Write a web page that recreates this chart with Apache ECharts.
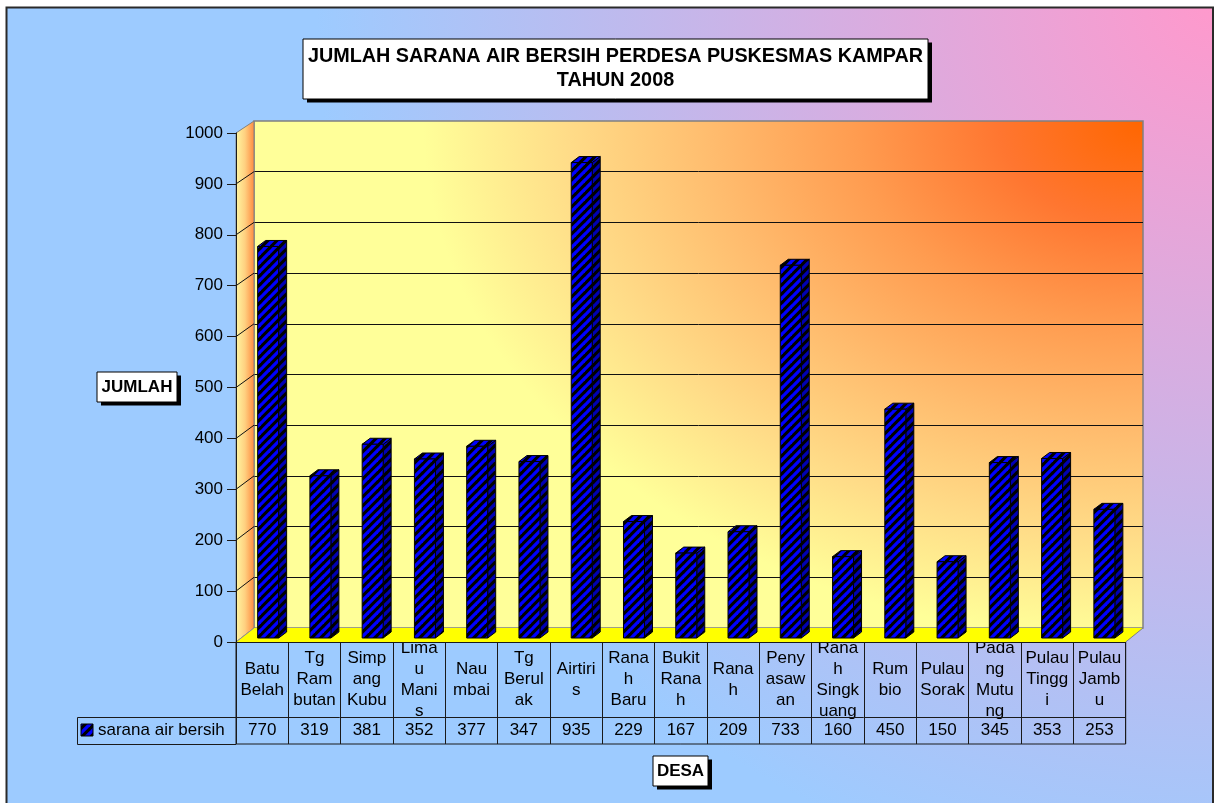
<!DOCTYPE html>
<html>
<head>
<meta charset="utf-8">
<title>Jumlah Sarana Air Bersih Perdesa Puskesmas Kampar 2008</title>
<script src="https://cdn.jsdelivr.net/npm/echarts@6/dist/echarts.min.js"></script>
<style>
  html, body { margin: 0; padding: 0; background: #fff; }
  #chart { width: 1216px; height: 803px; }
</style>
</head>
<body>
<div id="chart"></div>
<script>
const desaNames = ['Batu Belah', 'Tg Rambutan', 'Simpang Kubu', 'Limau Manis', 'Naumbai', 'Tg Berulak',
  'Airtiris', 'Ranah Baru', 'Bukit Ranah', 'Ranah', 'Penyasawan', 'Ranah Singkuang', 'Rumbio',
  'Pulau Sorak', 'Padang Mutung', 'Pulau Tinggi', 'Pulau Jambu'];
// names as they wrap inside the narrow table cells
const desaLabels = ['Batu\nBelah', 'Tg\nRam\nbutan', 'Simp\nang\nKubu', 'Lima\nu\nMani\ns', 'Nau\nmbai',
  'Tg\nBerul\nak', 'Airtiri\ns', 'Rana\nh\nBaru', 'Bukit\nRana\nh', 'Rana\nh', 'Peny\nasaw\nan',
  'Rana\nh\nSingk\nuang', 'Rum\nbio', 'Pulau\nSorak', 'Pada\nng\nMutu\nng', 'Pulau\nTingg\ni', 'Pulau\nJamb\nu'];
const saranaAir = [770, 319, 381, 352, 377, 347, 935, 229, 167, 209, 733, 160, 450, 150, 345, 353, 253];
const seriesName = 'sarana air bersih';

const FONT = '"Liberation Sans", Arial, sans-serif';

// layout (pixels)
const FRONT = { left: 236, right: 1125.7, top: 133, bottom: 642 };
const BACK = { left: 254, right: 1143, top: 121, bottom: 628 };
const BARS = { left: 242, right: 1130.5, top: 129.5, bottom: 638 };
const TABLE = { top: 642, mid: 717.5, bottom: 744, legendLeft: 77.5 };

function stripes(bg, fg) {
  const s = 9;
  const c = document.createElement('canvas');
  c.width = s; c.height = s;
  const ctx = c.getContext('2d');
  ctx.fillStyle = bg;
  ctx.fillRect(0, 0, s, s);
  ctx.strokeStyle = fg;
  ctx.lineWidth = 3.3;
  for (let k = -1; k <= 1; k++) {
    ctx.beginPath();
    ctx.moveTo(k * s - 2, s + 2);
    ctx.lineTo(k * s + s + 2, -2);
    ctx.stroke();
  }
  return { image: c, repeat: 'repeat' };
}

// back wall: elliptical gradient from the top right corner
function wallImage(w, h) {
  const rx = 720, ry = 520;
  const c = document.createElement('canvas');
  c.width = w; c.height = h;
  const ctx = c.getContext('2d');
  ctx.fillStyle = '#FFFF99';
  ctx.fillRect(0, 0, w, h);
  ctx.save();
  ctx.translate(w, 0);
  ctx.scale(1, ry / rx);
  const g = ctx.createRadialGradient(0, 0, 0, 0, 0, rx);
  g.addColorStop(0, '#FF6600');
  g.addColorStop(0.2, '#FF7630');
  g.addColorStop(0.4, '#FF9C50');
  g.addColorStop(0.6, '#FFBC6E');
  g.addColorStop(0.8, '#FFDC88');
  g.addColorStop(1, '#FFFF99');
  ctx.fillStyle = g;
  ctx.fillRect(-w, 0, w, h * rx / ry);
  ctx.restore();
  return c;
}

const frontFill = stripes('#000000', '#0000FF');
const sideFill = stripes('#000000', '#0000B4');

const chart = echarts.init(document.getElementById('chart'));

function gridBox(b, extra) {
  return Object.assign({
    left: b.left, top: b.top, width: b.right - b.left, height: b.bottom - b.top,
    outerBoundsMode: 'none', containLabel: false
  }, extra || {});
}

function hiddenCat(gridIndex) {
  return { type: 'category', gridIndex: gridIndex, data: desaNames, show: false };
}

chart.setOption({
  backgroundColor: '#ffffff',
  animation: false,
  textStyle: { fontFamily: FONT },
  grid: [
    gridBox(BACK, { show: true, backgroundColor: 'transparent', borderColor: '#808080', borderWidth: 1.5 }),
    gridBox(FRONT),
    gridBox(BARS),
    gridBox({ left: FRONT.left, right: FRONT.right, top: TABLE.top, bottom: TABLE.bottom },
      { show: true, backgroundColor: 'transparent', borderColor: '#1a1a1a', borderWidth: 1 })
  ],
  xAxis: [
    hiddenCat(0),
    hiddenCat(1),
    hiddenCat(2),
    {
      type: 'category', gridIndex: 3, position: 'top', data: desaNames,
      axisLine: { show: false }, axisTick: { show: false },
      splitLine: { show: true, interval: 0, lineStyle: { color: '#1a1a1a', width: 1 } },
      axisLabel: {
        inside: true, margin: 37.5, interval: 0, verticalAlign: 'middle',
        fontSize: 17, lineHeight: 21, color: '#000', fontFamily: FONT,
        formatter: (v, i) => desaLabels[i]
      }
    },
    {
      type: 'category', gridIndex: 3, position: 'bottom', data: saranaAir.map(String),
      axisLine: { show: false }, axisTick: { show: false }, splitLine: { show: false },
      axisLabel: {
        inside: true, margin: 13.5, interval: 0, verticalAlign: 'middle',
        fontSize: 17, color: '#000', fontFamily: FONT
      }
    }
  ],
  yAxis: [
    {
      type: 'value', gridIndex: 0, min: 0, max: 1000, interval: 100,
      axisLine: { show: false }, axisTick: { show: false }, axisLabel: { show: false },
      splitLine: { show: true, showMinLine: false, showMaxLine: false, lineStyle: { color: '#111', width: 1 } }
    },
    {
      type: 'value', gridIndex: 1, min: 0, max: 1000, interval: 100, z: 4,
      axisLine: { show: true, lineStyle: { color: '#1a1a1a', width: 1 } },
      axisTick: { show: true, length: 9, lineStyle: { color: '#1a1a1a' } },
      axisLabel: { fontSize: 17, color: '#000', margin: 13, fontFamily: FONT, formatter: v => String(v) },
      splitLine: { show: false }
    },
    { type: 'value', gridIndex: 2, min: 0, max: 1000, show: false },
    { type: 'value', gridIndex: 3, min: 0, max: 1, show: false }
  ],
  legend: {
    data: [{ name: seriesName, icon: 'rect', itemStyle: { color: frontFill, borderColor: '#000', borderWidth: 1 } }],
    left: 80.5, top: 721.5, padding: 0, itemWidth: 12, itemHeight: 12,
    textStyle: { fontSize: 17, color: '#000', fontFamily: FONT },
    selectedMode: false
  },
  series: [{
    type: 'custom',
    name: seriesName,
    xAxisIndex: 2,
    yAxisIndex: 2,
    z: 3,
    clip: false,
    itemStyle: { color: frontFill },
    data: saranaAir.map((v, i) => [i, v]),
    renderItem: function (params, api) {
      const top = api.coord([api.value(0), api.value(1)]);
      const base = api.coord([api.value(0), 0]);
      const w = 21, dx = 8, dy = -6;
      const x0 = top[0] - w / 2, x1 = top[0] + w / 2;
      const line = { stroke: '#000', lineWidth: 1 };
      return {
        type: 'group',
        children: [
          {
            type: 'polygon',
            shape: { points: [[x1, top[1]], [x1 + dx, top[1] + dy], [x1 + dx, base[1] + dy], [x1, base[1]]] },
            style: Object.assign({ fill: sideFill }, line)
          },
          {
            type: 'polygon',
            shape: { points: [[x0, top[1]], [x0 + dx, top[1] + dy], [x1 + dx, top[1] + dy], [x1, top[1]]] },
            style: Object.assign({ fill: frontFill }, line)
          },
          {
            type: 'rect',
            shape: { x: x0, y: top[1], width: w, height: base[1] - top[1] },
            style: Object.assign({ fill: frontFill }, line)
          }
        ]
      };
    }
  }]
});

// decorations: page, walls, floor, table rules, title boxes
function shadowBox(x, y, w, h, text, fontSize, lineHeight) {
  return {
    type: 'group', z: 6,
    children: [
      { type: 'rect', shape: { x: x + 4, y: y + 3.5, width: w, height: h }, style: { fill: '#000' }, z: 6 },
      { type: 'rect', shape: { x: x, y: y, width: w, height: h }, style: { fill: '#fff', stroke: '#000', lineWidth: 1 }, z: 6 },
      {
        type: 'text', z: 7,
        style: {
          text: text, x: x + w / 2, y: y + h / 2, align: 'center', verticalAlign: 'middle',
          fill: '#000', fontSize: fontSize, fontWeight: 'bold', fontFamily: FONT, lineHeight: lineHeight
        }
      }
    ]
  };
}

const graphics = [
  {
    type: 'rect', z: -10,
    shape: { x: 6.5, y: 7.5, width: 1206.5, height: 820 },
    style: {
      fill: {
        type: 'radial', x: 1216, y: 0, r: 900, global: true,
        colorStops: [{ offset: 0, color: '#FF99CC' }, { offset: 1, color: '#9DCBFF' }]
      },
      stroke: '#2a2a2a', lineWidth: 2
    }
  },
  {
    type: 'image', z: -5,
    style: {
      image: wallImage(Math.round(BACK.right - BACK.left), Math.round(BACK.bottom - BACK.top)),
      x: BACK.left, y: BACK.top, width: BACK.right - BACK.left, height: BACK.bottom - BACK.top
    }
  },
  {
    type: 'polygon', z: 1,
    shape: { points: [[FRONT.left, FRONT.top], [BACK.left, BACK.top], [BACK.left, BACK.bottom], [FRONT.left, FRONT.bottom]] },
    style: {
      fill: {
        type: 'linear', x: FRONT.left, y: 0, x2: BACK.left, y2: 0, global: true,
        colorStops: [{ offset: 0, color: '#FFF6A0' }, { offset: 0.5, color: '#FFD080' }, { offset: 1, color: '#FF8C40' }]
      },
      stroke: '#808080', lineWidth: 1
    }
  }
];

for (let v = 100; v < 1000; v += 100) {
  const yf = chart.convertToPixel({ yAxisIndex: 1 }, v);
  const yb = chart.convertToPixel({ yAxisIndex: 0 }, v);
  graphics.push({
    type: 'line', z: 1,
    shape: { x1: FRONT.left, y1: yf, x2: BACK.left, y2: yb },
    style: { stroke: '#111', lineWidth: 1 }
  });
}

graphics.push(
  {
    type: 'polygon', z: 1,
    shape: { points: [[FRONT.left, FRONT.bottom], [BACK.left, BACK.bottom], [BACK.right, BACK.bottom], [FRONT.right, FRONT.bottom]] },
    style: { fill: '#FFFF00' }
  },
  { type: 'line', z: 1, shape: { x1: FRONT.left, y1: FRONT.bottom, x2: BACK.left, y2: BACK.bottom }, style: { stroke: '#909090', lineWidth: 1 } },
  { type: 'line', z: 1, shape: { x1: FRONT.right, y1: FRONT.bottom, x2: BACK.right, y2: BACK.bottom }, style: { stroke: '#808080', lineWidth: 1 } },
  { type: 'line', z: 1, shape: { x1: FRONT.left, y1: TABLE.top + 0.5, x2: FRONT.right, y2: TABLE.top + 0.5 }, style: { stroke: '#1a1a1a', lineWidth: 1 } },
  { type: 'line', z: 1, shape: { x1: TABLE.legendLeft, y1: TABLE.mid, x2: FRONT.right, y2: TABLE.mid }, style: { stroke: '#1a1a1a', lineWidth: 1 } },
  {
    type: 'polyline', z: 1,
    shape: { points: [[FRONT.left, TABLE.bottom + 0.5], [TABLE.legendLeft, TABLE.bottom + 0.5], [TABLE.legendLeft, TABLE.mid]] },
    style: { stroke: '#1a1a1a', lineWidth: 1, fill: null }
  },
  shadowBox(303, 39, 625, 60, 'JUMLAH SARANA AIR BERSIH PERDESA PUSKESMAS KAMPAR\nTAHUN 2008', 19.8, 24),
  shadowBox(97, 372, 80, 30, 'JUMLAH', 17, 20),
  shadowBox(653, 756, 55, 30, 'DESA', 17, 20)
);

chart.setOption({ graphic: graphics });
</script>
</body>
</html>
